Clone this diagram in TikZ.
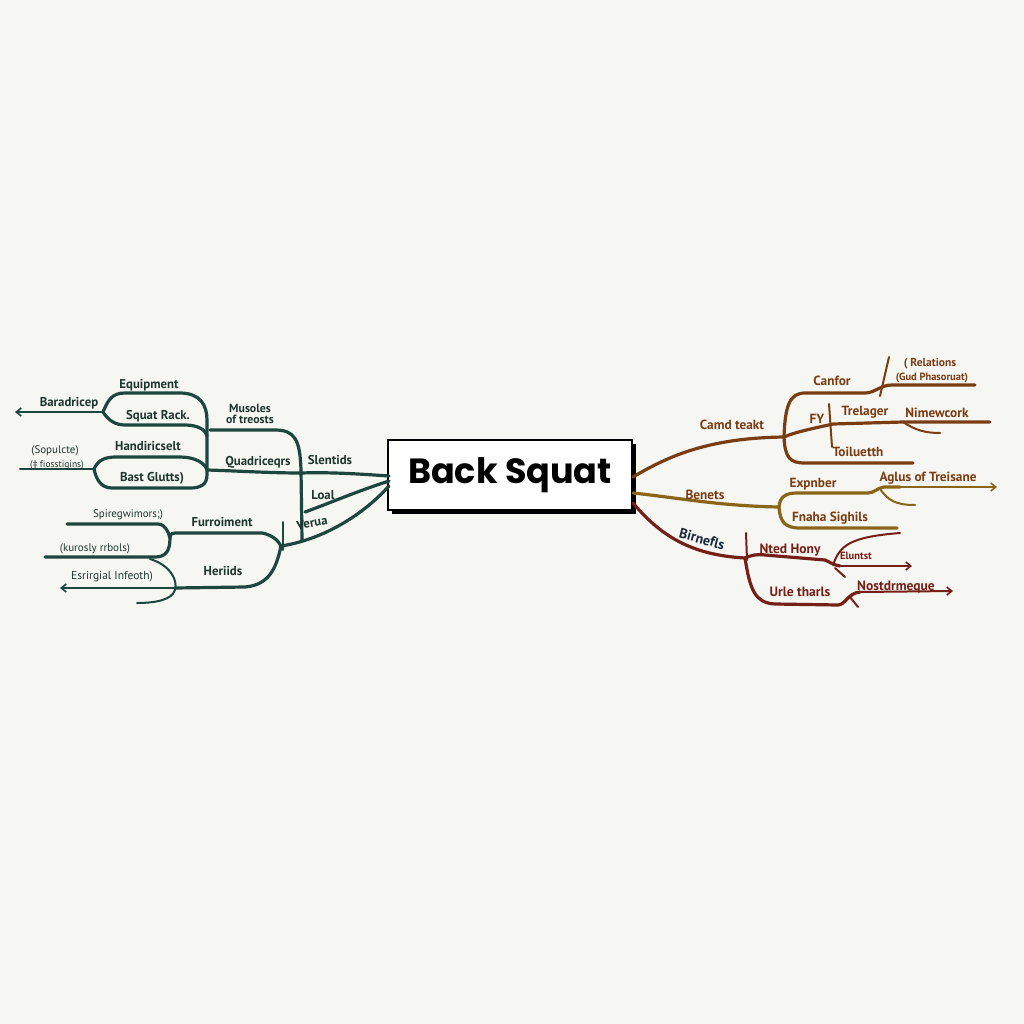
\documentclass[tikz,border=0pt]{standalone}
\usepackage{fontspec}
\setmainfont{PT Sans}[Ligatures=NoCommon]
\newfontfamily\titlefont{Poppins}
\usetikzlibrary{arrows.meta,shadows}
\definecolor{bg}{HTML}{F6F7F2}
\definecolor{grn}{HTML}{1D463E}
\definecolor{grntxt}{HTML}{1E3530}
\definecolor{brn}{HTML}{7A3C12}
\definecolor{ochre}{HTML}{8A6418}
\definecolor{mar}{HTML}{761E18}
\definecolor{navy}{HTML}{18253A}
\tikzset{
  gline/.style={draw=grn,line width=3.2pt,line cap=round},
  gthin/.style={draw=grn,line width=2pt,line cap=round},
  bline/.style={draw=brn,line width=3.2pt,line cap=round},
  bthin/.style={draw=brn,line width=2pt,line cap=round},
  oline/.style={draw=ochre,line width=3.2pt,line cap=round},
  othin/.style={draw=ochre,line width=2pt,line cap=round},
  mline/.style={draw=mar,line width=3.2pt,line cap=round},
  mthin/.style={draw=mar,line width=2pt,line cap=round},
  tip/.style={-{Straight Barb[length=5pt,width=8pt,line width=1.6pt]}},
  gt/.style={text=grntxt,font=\bfseries\fontsize{12.8}{14}\selectfont,inner sep=1pt},
  gs/.style={text=grntxt,font=\fontsize{11}{11}\selectfont,inner sep=1pt},
  bt/.style={text=brn,font=\bfseries\fontsize{13.3}{14}\selectfont,inner sep=1pt},
  bs/.style={text=brn,font=\bfseries\fontsize{10.5}{11}\selectfont,inner sep=1pt},
  mt/.style={text=mar,font=\bfseries\fontsize{13.5}{14}\selectfont,inner sep=1pt},
  titlebox/.style={draw=black,line width=1.2pt,fill=white,minimum width=244pt,minimum height=70pt,
    font=\titlefont\bfseries\fontsize{35}{38}\selectfont,text=black,inner sep=0pt,
    drop shadow={shadow xshift=4pt,shadow yshift=-4pt,opacity=1,fill=black}}
}
\begin{document}
\begin{tikzpicture}[x=1pt,y=-1pt]
\fill[bg] (0,0) rectangle (1024,1024);
\useasboundingbox (0,0) rectangle (1024,1024);

% ---------- centre ----------
\node[titlebox] (title) at (510,475) {Back Squat};

% ---------- junction coordinates ----------
\coordinate (LW1) at (389,476);
\coordinate (LW2) at (389,481);
\coordinate (LW3) at (389,486);
\coordinate (J1) at (301,473);
\coordinate (Jm) at (207,470);
\coordinate (J2) at (103,412);
\coordinate (J3) at (94,469);
\coordinate (JV) at (281,546);
\coordinate (JF) at (170,538);
\coordinate (RE1) at (633,477);
\coordinate (RE2) at (633,493);
\coordinate (RE3) at (633,503);
\coordinate (K1) at (784,437);
\coordinate (K2) at (779,507);
\coordinate (K3) at (745,558);

% ---------- left (green) ----------
\draw[gline] (LW1) .. controls (360,474) and (330,472) .. (J1);
\draw[gline] (J1) .. controls (270,473) and (240,471) .. (Jm);
\draw[gline] (302,540) -- (301,470) .. controls (300,440) and (295,430) .. (275,430) -- (210,430);
\draw[gline] (LW2) .. controls (355,492) and (330,503) .. (305,512);
\draw[gline] (LW3) .. controls (360,518) and (320,540) .. (JV);
\draw[gthin] (283,522) -- (283,550);

% upper cluster
\draw[gline] (J2) .. controls (108,400) and (112,393) .. (125,393) -- (180,393) .. controls (200,393) and (207,405) .. (207,420)
   -- (207,475) .. controls (207,485) and (200,488) .. (190,488) -- (112,488) .. controls (100,488) and (96,478) .. (J3);
\draw[gline] (J2) .. controls (108,420) and (115,425) .. (125,425) -- (185,425) .. controls (198,425) and (206,430) .. (207,436);
\draw[gthin,tip] (J2) -- (15,412);
\draw[gline] (J3) .. controls (98,460) and (105,457) .. (116,457) -- (180,457) .. controls (195,457) and (205,463) .. (Jm);
\draw[gthin] (J3) -- (20,469);

% lower cluster
\draw[gline] (67,524) -- (158,524) .. controls (167,524) and (JF) .. (JF) .. controls (170,552) and (165,557) .. (155,557) -- (45,557);
\draw[gline] (JF) .. controls (170,533) and (172,533) .. (180,533) -- (262,533) .. controls (272,535) and (278,540) .. (JV);
\draw[gline] (JV) .. controls (276,570) and (268,585) .. (245,587) -- (175,588);
\draw[gthin,tip] (175,588) -- (60,588);
\draw[gthin] (150,559) .. controls (170,565) and (178,580) .. (175,590) .. controls (172,600) and (155,603) .. (137,603);

% left labels
\node[gt] (equip) at (149,385) {Equipment};
\node[gt] (rack) at (158,416) {Squat Rack.};
\node[gt] (barad) at (69,403) {Baradricep};
\node[gt] (handi) at (148,446) {Handiricselt};
\node[gs] (sopul) at (55,451) {(Sopulcte)};
\node[gs,font=\fontsize{9.5}{10}\selectfont] (fioss) at (57,465) {(‡ fiosstigins)};
\node[gt] (glut) at (152,478) {Bast Glutts)};
\node[gt,align=center,font=\bfseries\fontsize{11.8}{10.5}\selectfont] (musc) at (250,414) {Musoles\\of treosts};
\node[gt] (quad) at (258,462) {Quadriceqrs};
\node[gt] (slen) at (330,460) {Slentids};
\node[gt] (loal) at (323,495) {Loal};
\node[gt,rotate=10] (verua) at (312,523) {Verua};
\node[gs] (spire) at (128,515) {Spiregwimors;)};
\node[gs] (kuro) at (95,549) {(kurosly rrbols)};
\node[gt] (furro) at (222,522) {Furroiment};
\node[gt] (heri) at (223,571) {Heriids};
\node[gs,font=\fontsize{11.5}{12}\selectfont] (esri) at (112,577) {Esrirgial Infeoth)};

% ---------- right top (brown) ----------
\draw[bline] (RE1) .. controls (670,455) and (710,438) .. (K1);
\draw[bline] (K1) .. controls (785,405) and (790,393) .. (805,393) -- (865,393) .. controls (875,393) and (880,385) .. (892,385) -- (975,385);
\draw[bline] (K1) .. controls (785,458) and (790,463) .. (805,463) -- (913,463);
\draw[bline] (K1) .. controls (795,432) and (815,428) .. (833,424) -- (903,422) -- (990,422);
\draw[bthin] (903,422) .. controls (915,430) and (925,433) .. (940,433);
\draw[bthin] (889,357) -- (880,396);
\draw[bthin] (829,404) -- (832,447);

\node[bt] (camd) at (732,425) {Camd teakt};
\node[bt] (canf) at (832,381) {Canfor};
\node[bs,font=\bfseries\fontsize{11.5}{12}\selectfont] (relat) at (930,364) {( Relations};
\node[bs] (gud) at (932,378) {(Gud Phasoruat)};
\node[bt] (fy) at (817,419) {FY};
\node[bt] (trel) at (865,412) {Trelager};
\node[bt] (nime) at (937,413) {Nimewcork};
\node[bt] (toil) at (858,452) {Toiluetth};

% ---------- right middle (ochre) ----------
\draw[oline] (RE2) .. controls (680,498) and (720,506) .. (K2);
\draw[oline] (K2) .. controls (780,497) and (785,493) .. (797,493) -- (868,493) .. controls (874,493) and (877,488) .. (884,487) -- (900,487);
\draw[othin,tip] (900,487) -- (997,487);
\draw[othin] (880,489) .. controls (888,500) and (895,505) .. (915,505);
\draw[oline] (K2) .. controls (780,522) and (785,528) .. (800,528) -- (897,528);

\node[bt] (bene) at (705,495) {Benets};
\node[bt] (expn) at (813,484) {Expnber};
\node[bt] (aglu) at (928,478) {Aglus of Treisane};
\node[bt] (fnah) at (830,518) {Fnaha Sighils};

% ---------- right bottom (maroon) ----------
\draw[mline] (RE3) .. controls (660,535) and (690,555) .. (K3);
\draw[mthin] (746,533) -- (747,560);
\draw[mline] (K3) .. controls (752,555) and (757,554) .. (765,555) -- (825,560) .. controls (830,562) and (833,565) .. (840,566);
\draw[mthin,tip] (840,566) -- (912,566);
\draw[mthin] (833,565) .. controls (840,545) and (850,537) .. (900,533);
\draw[mthin] (835,568) -- (845,577);
\draw[mline] (K3) .. controls (750,590) and (755,603) .. (775,604) -- (838,605) .. controls (845,605) and (848,593) .. (860,592);
\draw[mthin,tip] (860,592) -- (953,591);
\draw[mthin] (850,597) -- (858,607);

\node[mt,text=navy,rotate=-15,font=\bfseries\fontsize{14}{15}\selectfont] (birn) at (702,539) {Birnefls};
\node[mt] (nted) at (790,550) {Nted Hony};
\node[bs,text=mar] (elun) at (856,556) {Eluntst};
\node[mt] (urle) at (800,592) {Urle tharls};
\node[mt] (nost) at (896,587) {Nostdrmeque};
\end{tikzpicture}
\end{document}
